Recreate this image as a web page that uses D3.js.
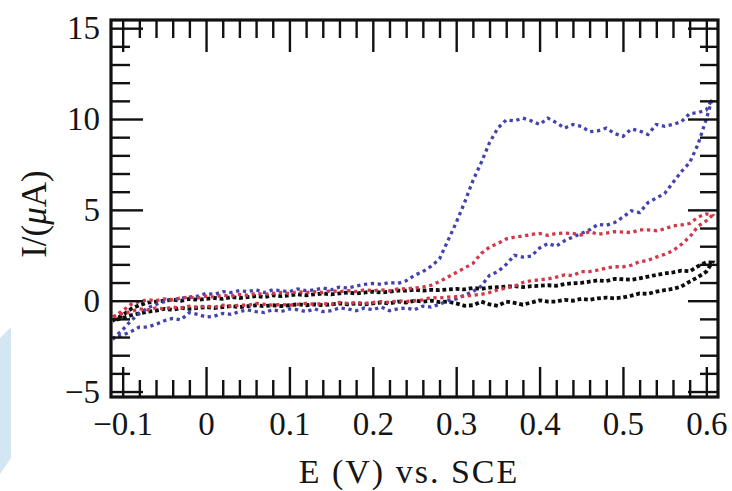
<!DOCTYPE html>
<html>
<head>
<meta charset="utf-8">
<script src="https://cdn.jsdelivr.net/npm/d3@7"></script>
<style>
  body { margin: 0; background: #fff; }
  svg { display: block; }
  text { font-family: "Liberation Serif", "DejaVu Serif", serif; fill: #151515; }
</style>
</head>
<body>
<div id="chart"></div>
<script>
// potential grid (V vs SCE), same for every sweep
const potential = [
  -0.112, -0.10, -0.09, -0.08, -0.07, -0.06, -0.05, -0.04, -0.03, -0.02,
  -0.01, 0.00, 0.01, 0.02, 0.03, 0.04, 0.05, 0.06, 0.07, 0.08,
  0.09, 0.10, 0.11, 0.12, 0.13, 0.14, 0.15, 0.16, 0.17, 0.18,
  0.19, 0.20, 0.21, 0.22, 0.23, 0.24, 0.25, 0.26, 0.27, 0.28,
  0.29, 0.30, 0.31, 0.32, 0.33, 0.34, 0.35, 0.36, 0.37, 0.38,
  0.39, 0.40, 0.41, 0.42, 0.43, 0.44, 0.45, 0.46, 0.47, 0.48,
  0.49, 0.50, 0.51, 0.52, 0.53, 0.54, 0.55, 0.56, 0.57, 0.58,
  0.59, 0.60, 0.607
];

// currents (uA); "Fwd" = upper branch, "Rev" = lower branch, both listed by rising potential
const blueFwd = [
  -2.1, -1.6, -1.1, -0.7, -0.4, -0.2, -0.05, 0.05, 0.13, 0.2,
  0.25, 0.4, 0.35, 0.5, 0.45, 0.55, 0.5, 0.6, 0.45, 0.6,
  0.55, 0.5, 0.65, 0.55, 0.6, 0.7, 0.6, 0.75, 0.7, 0.8,
  0.9, 0.95, 0.9, 1.0, 0.95, 1.1, 1.4, 1.6, 1.9, 2.3,
  3.3, 4.3, 5.4, 6.6, 7.6, 8.7, 9.5, 9.95, 9.9, 10.05,
  9.9, 9.7, 10.05, 9.8, 9.5, 9.7, 9.6, 9.3, 9.35, 9.5,
  9.2, 9.05, 9.45, 9.35, 9.15, 9.7, 9.6, 9.7, 9.85, 10.3,
  10.35, 10.5, 11.1
];
const blueRev = [
  -2.1, -1.9, -1.7, -1.45, -1.45, -1.3, -1.1, -0.97, -1.05, -0.65,
  -0.75, -0.9, -0.85, -0.7, -0.75, -0.6, -0.5, -0.6, -0.65, -0.5,
  -0.6, -0.45, -0.5, -0.6, -0.45, -0.6, -0.55, -0.4, -0.45, -0.55,
  -0.4, -0.5, -0.35, -0.55, -0.45, -0.4, -0.5, -0.3, -0.35, -0.2,
  0.0, 0.1, 0.3, 0.5, 0.8, 1.4, 1.6, 2.0, 2.5, 2.4,
  2.45, 2.9, 3.15, 3.0, 3.3, 3.5, 3.7, 3.9, 4.2, 4.15,
  4.3, 4.6, 4.95, 4.85, 5.4, 5.65, 5.9, 6.5, 7.1, 7.6,
  8.6, 10.0, 11.1
];
const redFwd = [
  -0.9, -0.55, -0.2, -0.05, 0.05, 0.0, 0.1, 0.05, 0.15, 0.2,
  0.15, 0.25, 0.2, 0.3, 0.25, 0.35, 0.3, 0.4, 0.35, 0.4,
  0.45, 0.4, 0.5, 0.45, 0.5, 0.45, 0.55, 0.5, 0.55, 0.5,
  0.6, 0.55, 0.6, 0.55, 0.65, 0.65, 0.7, 0.75, 0.85, 1.05,
  1.3, 1.55, 1.8, 2.05, 2.6, 2.95, 3.15, 3.4, 3.5, 3.55,
  3.65, 3.7, 3.6, 3.7, 3.72, 3.7, 3.62, 3.8, 3.66, 3.72,
  3.8, 3.78, 3.75, 3.9, 3.9, 3.85, 3.95, 4.12, 4.17, 4.25,
  4.6, 4.78, 4.7
];
const redRev = [
  -0.9, -0.7, -0.6, -0.45, -0.5, -0.4, -0.45, -0.35, -0.4, -0.3,
  -0.35, -0.3, -0.35, -0.25, -0.3, -0.25, -0.25, -0.15, -0.2, -0.25,
  -0.2, -0.25, -0.2, -0.15, -0.2, -0.15, -0.2, -0.1, -0.15, -0.1,
  -0.15, -0.1, -0.05, -0.1, 0.0, -0.05, 0.0, 0.05, 0.18, 0.15,
  0.2, 0.22, 0.25, 0.3, 0.35, 0.45, 0.6, 0.7, 0.8, 1.0,
  1.1, 1.15, 1.2, 1.3, 1.42, 1.38, 1.6, 1.6, 1.69, 1.8,
  1.87, 1.87, 1.95, 2.15, 2.22, 2.4, 2.55, 2.75, 3.1, 3.5,
  4.1, 4.4, 4.7
];
const blackFwd = [
  -1.1, -0.8, -0.45, -0.25, -0.1, -0.05, 0.0, 0.05, 0.0, 0.1,
  0.05, 0.1, 0.15, 0.1, 0.2, 0.15, 0.2, 0.25, 0.2, 0.3,
  0.25, 0.3, 0.35, 0.3, 0.35, 0.4, 0.35, 0.4, 0.45, 0.4,
  0.45, 0.5, 0.45, 0.5, 0.55, 0.55, 0.6, 0.55, 0.6, 0.58,
  0.62, 0.65, 0.62, 0.7, 0.65, 0.72, 0.75, 0.78, 0.8, 0.75,
  0.8, 0.82, 0.85, 0.82, 0.92, 0.96, 0.98, 1.05, 1.12, 1.08,
  1.2, 1.18, 1.15, 1.23, 1.33, 1.42, 1.5, 1.56, 1.65, 1.62,
  1.9, 2.12, 2.1
];
const blackRev = [
  -1.1, -0.95, -0.8, -0.7, -0.6, -0.55, -0.45, -0.5, -0.4, -0.45,
  -0.4, -0.35, -0.4, -0.35, -0.3, -0.35, -0.3, -0.25, -0.3, -0.25,
  -0.3, -0.25, -0.2, -0.25, -0.2, -0.25, -0.2, -0.15, -0.2, -0.15,
  -0.2, -0.15, -0.1, -0.15, -0.05, -0.1, 0.0, -0.05, 0.0, -0.08,
  -0.05, -0.15, -0.28, -0.25, -0.05, -0.2, -0.28, -0.05, -0.12, -0.22,
  -0.1, 0.02, -0.05, -0.05, 0.05, 0.0, 0.1, 0.05, 0.13, 0.17,
  0.13, 0.18, 0.28, 0.4, 0.38, 0.5, 0.58, 0.65, 0.78, 1.05,
  1.3, 1.6, 2.1
];

const xMajor = [-0.1, 0, 0.1, 0.2, 0.3, 0.4, 0.5, 0.6];
const yMajor = [-5, 0, 5, 10, 15];

const curves = [
  { name: "black", fwd: blackFwd, rev: blackRev, color: "#0d0d0d", w: 3.8, dash: "3.8 2.8" },
  { name: "blue", fwd: blueFwd, rev: blueRev, color: "#4343b0", w: 3.3, dash: "3.3 3.6" },
  { name: "red", fwd: redFwd, rev: redRev, color: "#d2384a", w: 3.3, dash: "3.3 3.6" }
];

const width = 732, height = 491;
const mLeft = 111, mRight = 718, mTop = 20, mBottom = 397;

const svg = d3.select("#chart").append("svg")
  .attr("width", width).attr("height", height);

// pale blue scrap at the left edge of the scan
svg.append("path")
  .attr("d", "M0,338 L11,327 L11,458 L0,474 Z")
  .attr("fill", "#d3e6f1");

const x = d3.scaleLinear().domain([-0.114, 0.614]).range([mLeft, mRight]);
const y = d3.scaleLinear().domain([-5.3, 15.45]).range([mBottom, mTop]);

const xMinor = d3.range(-0.1, 0.6001, 0.02).filter(v => Math.abs(Math.round(v * 10) - v * 10) > 1e-6);
const yMinor = d3.range(-5, 15.001, 1).filter(v => v % 5 !== 0);

// curves: upper branch out, lower branch back, dotted
const line = d3.line().x(d => x(d[0])).y(d => y(d[1]));
const plot = svg.append("g");
curves.forEach(c => {
  const pts = potential.map((e, i) => [e, c.fwd[i]])
    .concat(potential.map((e, i) => [e, c.rev[i]]).reverse());
  plot.append("path")
    .datum(pts)
    .attr("d", line)
    .attr("fill", "none")
    .attr("stroke", c.color)
    .attr("stroke-width", c.w)
    .attr("stroke-dasharray", c.dash);
});

// ticks on all four sides, pointing inward
function tickSet(axis, g, values, size, labels) {
  g.call(axis.tickValues(values).tickSize(-size).tickSizeOuter(0)
    .tickFormat(labels ? d3.format("") : ""));
  g.select(".domain").remove();
  g.selectAll(".tick line").attr("stroke", "#111").attr("stroke-width", 2.4);
}
const fontSize = 33;
const gb = svg.append("g").attr("transform", `translate(0,${mBottom})`);
tickSet(d3.axisBottom(x), gb.append("g"), xMinor, 17, false);
tickSet(d3.axisBottom(x).tickPadding(15), gb.append("g"), xMajor, 30, true);
const gt = svg.append("g").attr("transform", `translate(0,${mTop})`);
tickSet(d3.axisTop(x), gt.append("g"), xMinor, 18, false);
tickSet(d3.axisTop(x), gt.append("g"), xMajor, 32, false);
const gl = svg.append("g").attr("transform", `translate(${mLeft},0)`);
tickSet(d3.axisLeft(y), gl.append("g"), yMinor, 19, false);
tickSet(d3.axisLeft(y).tickPadding(11), gl.append("g"), yMajor, 32, true);
const gr = svg.append("g").attr("transform", `translate(${mRight},0)`);
tickSet(d3.axisRight(y), gr.append("g"), yMinor, 18, false);
tickSet(d3.axisRight(y), gr.append("g"), yMajor, 30, false);

svg.selectAll(".tick text")
  .attr("font-size", fontSize)
  .attr("font-family", "Liberation Serif, serif")
  .attr("fill", "#151515");

// frame
svg.append("rect")
  .attr("x", mLeft).attr("y", mTop)
  .attr("width", mRight - mLeft).attr("height", mBottom - mTop)
  .attr("fill", "none").attr("stroke", "#111").attr("stroke-width", 3.2);

// axis titles
svg.append("text")
  .attr("x", 409).attr("y", 483)
  .attr("text-anchor", "middle")
  .attr("font-size", 34)
  .attr("letter-spacing", 2)
  .text("E (V) vs. SCE");

const yt = svg.append("text")
  .attr("transform", "translate(46,214) rotate(-90)")
  .attr("text-anchor", "middle")
  .attr("font-size", 35);
yt.append("tspan").text("I/(");
yt.append("tspan").attr("font-style", "italic").text("\u03bc");
yt.append("tspan").text("A)");
</script>
</body>
</html>
